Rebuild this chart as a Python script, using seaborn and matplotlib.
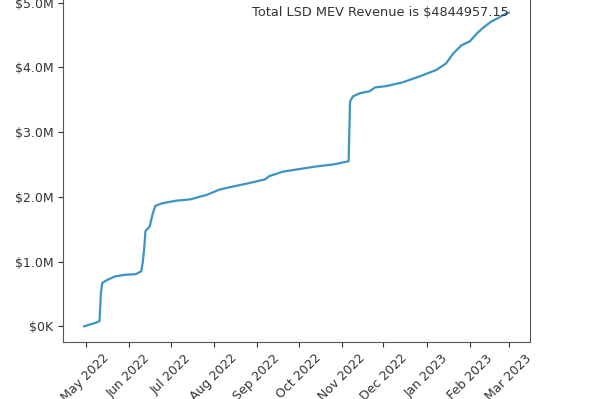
# %%
import pandas as pd
import seaborn as sns
import matplotlib.pyplot as plt
import matplotlib.dates as mdates
from matplotlib.ticker import FuncFormatter

# %%
dates = [
    "2022-04-30", "2022-05-09", "2022-05-11", "2022-05-12", "2022-05-13",
    "2022-05-16", "2022-05-22", "2022-05-29", "2022-06-06", "2022-06-10",
    "2022-06-11", "2022-06-12", "2022-06-13", "2022-06-16", "2022-06-18",
    "2022-06-20", "2022-06-25", "2022-07-05", "2022-07-15", "2022-07-27",
    "2022-08-05", "2022-08-15", "2022-08-24", "2022-09-03", "2022-09-07",
    "2022-09-10", "2022-09-20", "2022-10-02", "2022-10-14", "2022-10-26",
    "2022-11-06", "2022-11-07", "2022-11-09", "2022-11-14", "2022-11-21",
    "2022-11-25", "2022-12-03", "2022-12-15", "2022-12-27", "2023-01-08",
    "2023-01-15", "2023-01-20", "2023-01-26", "2023-02-01", "2023-02-06",
    "2023-02-10", "2023-02-16", "2023-02-22", "2023-02-27", "2023-03-01",
]
revenue = [
    0, 60000, 80000, 520000, 670000,
    710000, 770000, 795000, 805000, 850000,
    980000, 1180000, 1470000, 1540000, 1720000,
    1860000, 1900000, 1940000, 1960000, 2030000,
    2110000, 2160000, 2200000, 2250000, 2270000,
    2320000, 2390000, 2430000, 2470000, 2500000,
    2550000, 3470000, 3550000, 3600000, 3630000,
    3690000, 3710000, 3770000, 3860000, 3960000,
    4060000, 4210000, 4340000, 4400000, 4520000,
    4600000, 4700000, 4770000, 4830000, 4844957.15,
]

df = pd.DataFrame({"date": pd.to_datetime(dates), "revenue": revenue})
total = df["revenue"].iloc[-1]

# %%
def money(x, pos):
    if abs(x) >= 1e6:
        return f"${x / 1e6:.1f}M"
    return f"${x / 1e3:.0f}K"

plt.rcParams["font.size"] = 9
plt.rcParams["text.color"] = "#333333"
plt.rcParams["xtick.color"] = "#333333"
plt.rcParams["ytick.color"] = "#333333"

fig = plt.figure(figsize=(5.91, 3.99), dpi=100)
ax = fig.add_axes([0.1066, 0.1429, 0.790, 0.8647])
sns.lineplot(data=df, x="date", y="revenue", ax=ax, color="#3d93c2", linewidth=1.6)

ax.xaxis.set_major_locator(mdates.MonthLocator())
ax.xaxis.set_major_formatter(mdates.DateFormatter("%b %Y"))
ax.yaxis.set_major_formatter(FuncFormatter(money))
ax.tick_params(axis="x", labelrotation=45)
ax.set_xlabel("")
ax.set_ylabel("")
for s in ax.spines.values():
    s.set_color("#555555")

ax.text(df["date"].iloc[-1], total, f"Total LSD MEV Revenue is ${total}",
        ha="right", va="center", fontsize=9.3)

# %%
fig.savefig("out.png", dpi=100)
